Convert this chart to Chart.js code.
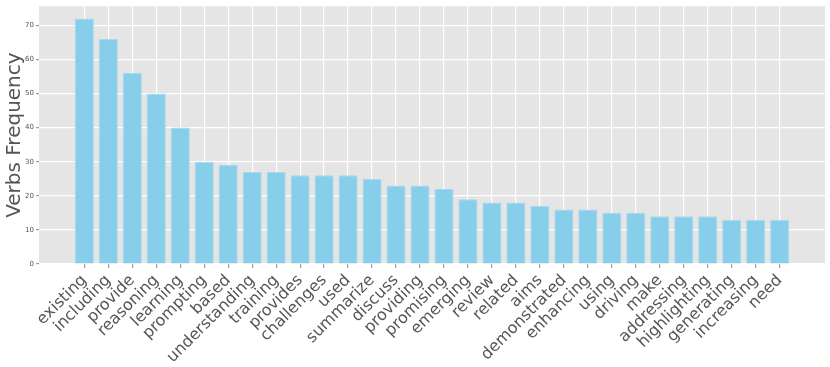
<!DOCTYPE html>
<html>
<head>
<meta charset="utf-8">
<script src="https://cdn.jsdelivr.net/npm/chart.js@4/dist/chart.umd.min.js"></script>
<style>
  html, body { margin: 0; padding: 0; background: #fff; }
  #wrap { width: 830px; height: 367px; }
</style>
</head>
<body>
<div id="wrap"><canvas id="verbs"></canvas></div>
<script>
/* ===== Data ===== */
const verbs = [
    'existing', 'including', 'provide', 'reasoning', 'learning', 'prompting',
    'based', 'understanding', 'training', 'provides', 'challenges', 'used',
    'summarize', 'discuss', 'providing', 'promising', 'emerging', 'review',
    'related', 'aims', 'demonstrated', 'enhancing', 'using', 'driving',
    'make', 'addressing', 'highlighting', 'generating', 'increasing', 'need'
];
const counts = [
    72, 66, 56, 50, 40, 30,
    29, 27, 27, 26, 26, 26,
    25, 23, 23, 22, 19, 18,
    18, 17, 16, 16, 15, 15,
    14, 14, 14, 13, 13, 13
];
const yTicks = [0, 10, 20, 30, 40, 50, 60, 70];

/* ===== ggplot-ish panel background ===== */
const panelBg = {
    id: 'panelBg',
    beforeDraw(chart) {
        const { ctx, chartArea: a } = chart;
        ctx.save();
        ctx.fillStyle = '#e5e5e5';
        ctx.fillRect(a.left, a.top, a.right - a.left, a.bottom - a.top);
        ctx.restore();
    }
};

Chart.defaults.font.family = "'DejaVu Sans', sans-serif";
Chart.defaults.color = '#555';

// matplotlib-style margins around the category range
const pad = 1.89;

new Chart(document.getElementById('verbs'), {
    type: 'bar',
    data: {
        datasets: [{
            label: 'Verbs Frequency',
            data: counts.map((v, i) => ({ x: i, y: v })),
            backgroundColor: '#87ceeb',
            borderColor: '#a9d9ee',
            borderWidth: 1,
            barPercentage: 0.8,
            categoryPercentage: 1.0
        }]
    },
    options: {
        responsive: true,
        maintainAspectRatio: false,
        animation: false,
        layout: { padding: { top: 5, right: 5, left: 0, bottom: 0 } },
        plugins: { legend: { display: false }, tooltip: { enabled: false } },
        scales: {
            x: {
                type: 'linear',
                offset: false,
                min: -pad,
                max: verbs.length - 1 + pad,
                afterBuildTicks: axis => { axis.ticks = verbs.map((_, i) => ({ value: i })); },
                afterFit: axis => { axis.height = 103; },
                ticks: {
                    autoSkip: false,
                    minRotation: 45,
                    maxRotation: 45,
                    padding: 3,
                    color: '#555',
                    font: { size: 16 },
                    callback: v => verbs[v]
                },
                grid: { offset: false, color: '#ffffff', lineWidth: 1.2, tickColor: '#999', tickLength: 4 },
                border: { display: false }
            },
            y: {
                min: 0,
                max: 75.6,
                afterBuildTicks: axis => { axis.ticks = yTicks.map(v => ({ value: v })); },
                afterFit: axis => { axis.width = 39; },
                ticks: { color: '#555', font: { size: 7 }, padding: 2 },
                title: { display: true, text: 'Verbs Frequency', color: '#555', font: { size: 20 }, padding: { top: 3, bottom: 0 } },
                grid: { color: '#ffffff', lineWidth: 1.2, tickColor: '#999', tickLength: 3 },
                border: { display: false }
            }
        }
    },
    plugins: [panelBg]
});
</script>
</body>
</html>
